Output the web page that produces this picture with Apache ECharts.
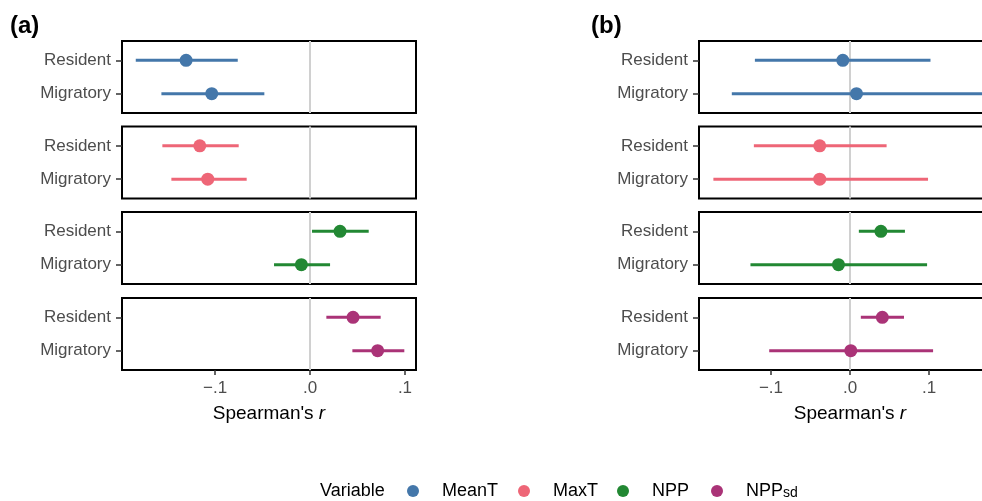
<!DOCTYPE html>
<html>
<head>
<meta charset="utf-8">
<script src="https://cdn.jsdelivr.net/npm/echarts@6/dist/echarts.min.js"></script>
<style>
html,body{margin:0;padding:0;background:#fff;}
#chart{width:982px;height:501px;}
</style>
</head>
<body>
<div id="chart"></div>
<script>
// ---- data ----
const variables = ['MeanT', 'MaxT', 'NPP', 'NPPsd'];
const rows = ['Resident', 'Migratory'];
const xTicks = [-0.1, 0, 0.1];
const xTickLabels = ['\u2212.1', '.0', '.1'];
const panelLabels = ['(a)', '(b)'];
const legendTitle = 'Variable';

// panel (a): estimate / lower / upper, per variable: [Resident, Migratory]
const estA  = [[-0.1305, -0.1035], [-0.1161, -0.1077], [0.0316, -0.0091], [0.0453, 0.0712]];
const lowA  = [[-0.1835, -0.1565], [-0.1555, -0.1460], [0.0021, -0.0379], [0.0172, 0.0446]];
const highA = [[-0.0761, -0.0481], [-0.0751, -0.0667], [0.0618,  0.0211], [0.0744, 0.0993]];
// panel (b)
const estB  = [[-0.0091,  0.0082], [-0.0383, -0.0383], [0.0391, -0.0146], [0.0409,  0.0010]];
const lowB  = [[-0.1203, -0.1495], [-0.1216, -0.1728], [0.0112, -0.1259], [0.0137, -0.1022]];
const highB = [[ 0.1018,  0.1800], [ 0.0463,  0.0987], [0.0695,  0.0975], [0.0683,  0.1051]];

// ---- styling / layout ----
const colors = ['#4477AA', '#EE6677', '#228833', '#AA3377'];
const FONT = 'Liberation Sans, Arial, sans-serif';
const cols = [
  { left: 122, width: 294, min: -0.198, max: 0.1116, est: estA, low: lowA, high: highA },
  { left: 699, width: 302, min: -0.191, max: 0.191, est: estB, low: lowB, high: highB }
];
const tops = [41, 126.5, 212, 298];
const panelH = 72;
const yMin = 0.42, yMax = 2.58;

const grids = [], xAxes = [], yAxes = [], series = [];
cols.forEach((col, c) => {
  variables.forEach((v, k) => {
    const idx = grids.length;
    const isBottom = k === variables.length - 1;
    grids.push({ left: col.left, top: tops[k], width: col.width, height: panelH,
      show: true, borderColor: '#000', borderWidth: 2, backgroundColor: 'transparent',
      containLabel: false, outerBoundsMode: 'none' });
    xAxes.push({
      type: 'value', gridIndex: idx, min: col.min, max: col.max,
      splitLine: { show: false },
      axisLine: { show: false, onZero: false },
      axisTick: { show: isBottom, length: 5, lineStyle: { color: '#333', width: 1.5 }, customValues: xTicks },
      axisLabel: { show: isBottom, customValues: xTicks, margin: 10, color: '#4d4d4d', fontSize: 17, fontFamily: FONT,
        formatter: (val) => { const i = xTicks.findIndex(t => Math.abs(t - val) < 1e-9); return i >= 0 ? xTickLabels[i] : ''; } },
      name: isBottom ? "Spearman's {i|r}" : '',
      nameLocation: 'middle', nameGap: 34,
      nameTextStyle: { color: '#000', fontSize: 19, fontFamily: FONT, rich: { i: { fontStyle: 'italic', fontSize: 19, fontFamily: FONT, color: '#000' } } }
    });
    yAxes.push({
      type: 'value', gridIndex: idx, min: yMin, max: yMax, inverse: true,
      splitLine: { show: false },
      axisLine: { show: false, onZero: false },
      axisTick: { show: true, length: 6, lineStyle: { color: '#333', width: 1.5 }, customValues: [1, 2] },
      axisLabel: { customValues: [1, 2], margin: 11, color: '#4d4d4d', fontSize: 17, fontFamily: FONT,
        formatter: (val) => rows[Math.round(val) - 1] || '' }
    });
    // zero reference line
    series.push({
      type: 'custom', xAxisIndex: idx, yAxisIndex: idx, z: 1, silent: true,
      data: [[0]], encode: { x: 0 },
      renderItem: (params, api) => {
        const p1 = api.coord([api.value(0), yMin]);
        const p2 = api.coord([api.value(0), yMax]);
        return { type: 'line', shape: { x1: p1[0], y1: p1[1], x2: p2[0], y2: p2[1] },
          style: { stroke: '#d0d0d0', lineWidth: 2 } };
      }
    });
    // error bars
    const color = colors[k];
    series.push({
      type: 'custom', name: v, xAxisIndex: idx, yAxisIndex: idx, z: 2, silent: true,
      itemStyle: { color: color },
      data: rows.map((r, j) => [col.low[k][j], col.high[k][j], j + 1]),
      encode: { x: [0, 1], y: 2 },
      renderItem: (params, api) => {
        const p1 = api.coord([api.value(0), api.value(2)]);
        const p2 = api.coord([api.value(1), api.value(2)]);
        return { type: 'line', shape: { x1: p1[0], y1: p1[1], x2: p2[0], y2: p2[1] },
          style: { stroke: color, lineWidth: 3 } };
      }
    });
    // point estimates
    series.push({
      type: 'scatter', name: v, xAxisIndex: idx, yAxisIndex: idx, z: 3, silent: true,
      symbol: 'circle', symbolSize: 13, itemStyle: { color: color, opacity: 1 },
      data: rows.map((r, j) => [col.est[k][j], j + 1])
    });
  });
});

const legendCenters = [413, 524, 623, 717];
const legends = variables.map((v, k) => ({
  data: [v], left: legendCenters[k] - 11, top: 477, orient: 'horizontal',
  icon: 'circle', itemWidth: 48, itemHeight: 12, itemGap: 0, selectedMode: false,
  textStyle: { color: '#000', fontSize: 18, fontFamily: FONT,
    rich: { n: { fontSize: 18, fontFamily: FONT, color: '#000', lineHeight: 18, verticalAlign: 'bottom' },
            s: { fontSize: 14, fontFamily: FONT, color: '#000', lineHeight: 10, verticalAlign: 'bottom' } } },
  formatter: (name) => name === 'NPPsd' ? '{n|NPP}{s|sd}' : name
}));

const chart = echarts.init(document.getElementById('chart'), null, { renderer: 'canvas' });
chart.setOption({
  backgroundColor: '#fff',
  animation: false,
  grid: grids, xAxis: xAxes, yAxis: yAxes, series: series,
  legend: legends,
  graphic: [
    { type: 'text', left: 10, top: 14, style: { text: panelLabels[0], font: 'bold 24px ' + FONT, fill: '#000' } },
    { type: 'text', left: 591, top: 14, style: { text: panelLabels[1], font: 'bold 24px ' + FONT, fill: '#000' } },
    { type: 'text', left: 320, top: 482, style: { text: legendTitle, font: '18px ' + FONT, fill: '#000' } }
  ]
});
</script>
</body>
</html>
